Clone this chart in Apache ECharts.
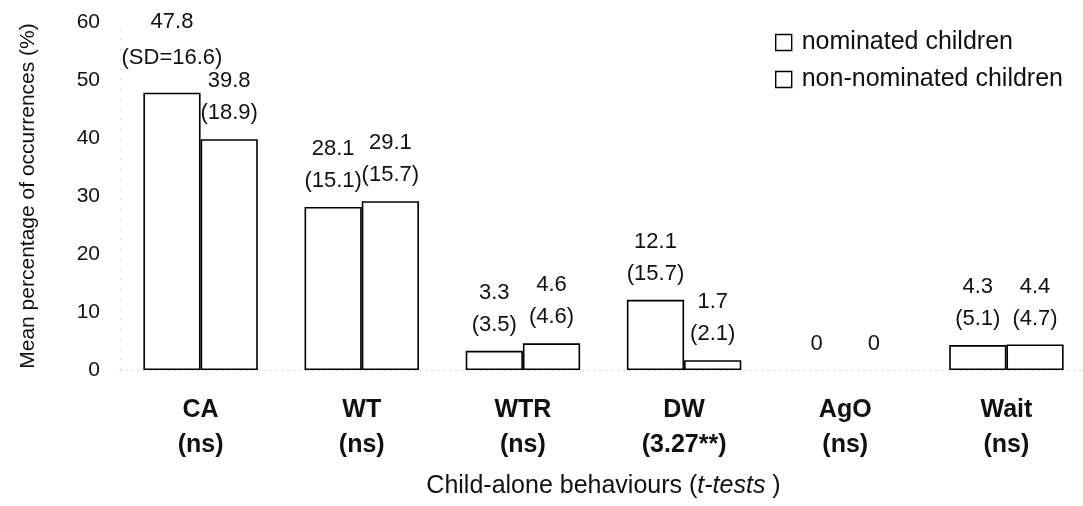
<!DOCTYPE html>
<html>
<head>
<meta charset="utf-8">
<script src="https://cdn.jsdelivr.net/npm/echarts@6/dist/echarts.min.js"></script>
<style>
html,body{margin:0;padding:0;background:#fff;}
#chart{width:1083px;height:506px;}
</style>
</head>
<body>
<div id="chart"></div>
<script>
var categories = ['CA', 'WT', 'WTR', 'DW', 'AgO', 'Wait'];
var tTests = ['ns', 'ns', 'ns', '3.27**', 'ns', 'ns'];
var seriesNames = ['nominated children', 'non-nominated children'];
var nominated = [47.8, 28.1, 3.3, 12.1, 0, 4.3];
var nominatedSD = ['SD=16.6', '15.1', '3.5', '15.7', '', '5.1'];
var nonNominated = [39.8, 29.1, 4.6, 1.7, 0, 4.4];
var nonNominatedSD = ['18.9', '15.7', '4.6', '2.1', '', '4.7'];
var yTicks = [0, 10, 20, 30, 40, 50, 60];

var FONT = '"Liberation Sans", Arial, Helvetica, sans-serif';
var INK = '#111';

function makeLabel(sds) {
  return {
    show: true,
    position: 'top',
    distance: 10,
    color: INK,
    fontFamily: FONT,
    fontSize: 22,
    lineHeight: 32,
    formatter: function (p) {
      var v = p.value;
      var txt = v === 0 ? '0' : v.toFixed(1);
      var sd = sds[p.dataIndex];
      return sd ? txt + '\n(' + sd + ')' : txt;
    }
  };
}

// zero-height bars show no outline; the first CA label sits a little higher
function buildData(values, firstLabelRaise) {
  return values.map(function (v, i) {
    var item = { value: v };
    if (v === 0) item.itemStyle = { borderWidth: 0 };
    if (i === 0 && firstLabelRaise) item.label = { distance: 17, lineHeight: 36 };
    return item;
  });
}

var barStyle = { color: '#ffffff', borderColor: '#000', borderWidth: 1.6 };

var chart = echarts.init(document.getElementById('chart'), null, { renderer: 'canvas' });
chart.setOption({
  backgroundColor: '#ffffff',
  animation: false,
  textStyle: { fontFamily: FONT, color: INK },
  grid: { left: 120, top: 22, width: 967, bottom: 136, containLabel: false, outerBoundsMode: 'none' },
  legend: {
    orient: 'vertical',
    left: 770,
    top: 25,
    icon: 'rect',
    itemWidth: 16,
    itemHeight: 16,
    itemGap: 12,
    textStyle: { fontFamily: FONT, fontSize: 25, color: INK, padding: [0, 0, 0, 5] },
    itemStyle: { color: '#fff', borderColor: '#000', borderWidth: 1.4 },
    data: seriesNames
  },
  xAxis: {
    type: 'category',
    data: categories,
    axisLine: { show: true, lineStyle: { color: '#cfcfcf', type: [1, 5], width: 1 } },
    axisTick: { show: false },
    axisLabel: {
      margin: 23,
      color: INK,
      fontFamily: FONT,
      fontSize: 25,
      fontWeight: 'bold',
      lineHeight: 35,
      formatter: function (v, i) { return v + '\n(' + tTests[i] + ')'; }
    },
    name: '{n|Child-alone behaviours (}{i|t-tests}{n| )}',
    nameLocation: 'middle',
    nameGap: 104,
    nameTextStyle: {
      rich: {
        n: { fontFamily: FONT, fontSize: 25, color: INK },
        i: { fontFamily: FONT, fontSize: 25, color: INK, fontStyle: 'italic' }
      }
    }
  },
  yAxis: {
    type: 'value',
    min: yTicks[0],
    max: yTicks[yTicks.length - 1],
    interval: 10,
    axisLine: { show: true, lineStyle: { color: '#d4d4d4', type: [1, 9], width: 1 } },
    axisTick: { show: false },
    splitLine: { show: false },
    axisLabel: { margin: 20, color: INK, fontFamily: FONT, fontSize: 21 },
    name: 'Mean percentage of occurrences (%)',
    nameLocation: 'middle',
    nameGap: 81,
    nameTextStyle: { fontFamily: FONT, fontSize: 21, color: INK }
  },
  series: [
    {
      name: seriesNames[0],
      type: 'bar',
      data: buildData(nominated, true),
      barGap: '0%',
      barCategoryGap: '29%',
      itemStyle: barStyle,
      label: makeLabel(nominatedSD)
    },
    {
      name: seriesNames[1],
      type: 'bar',
      data: buildData(nonNominated, false),
      barGap: '0%',
      barCategoryGap: '29%',
      itemStyle: barStyle,
      label: makeLabel(nonNominatedSD)
    }
  ]
});
</script>
</body>
</html>
